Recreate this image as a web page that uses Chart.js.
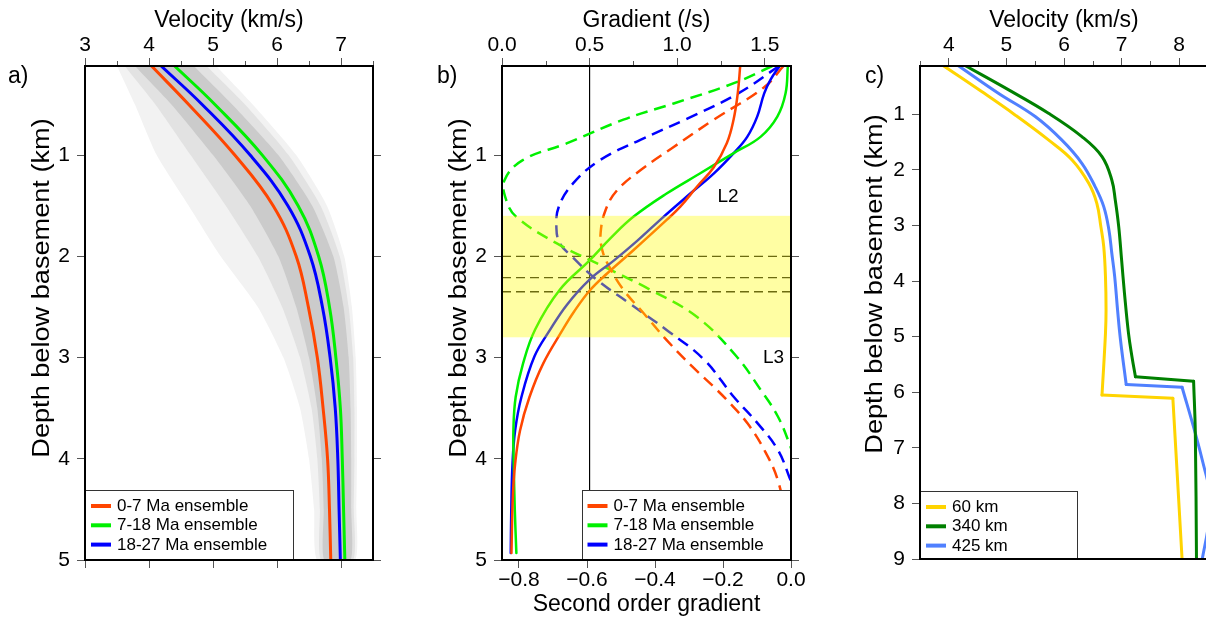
<!DOCTYPE html>
<html>
<head>
<meta charset="utf-8">
<script src="https://cdn.jsdelivr.net/npm/chart.js@4.4.0/dist/chart.umd.min.js"></script>
<style>
  html, body { margin: 0; padding: 0; background: #fff; overflow: hidden; width: 1206px; height: 619px; }
  canvas { position: absolute; top: 0; }
</style>
</head>
<body>
<canvas id="panelA" width="410" height="619" style="left:0px"></canvas>
<canvas id="panelB" width="410" height="619" style="left:415px"></canvas>
<canvas id="panelC" width="410" height="619" style="left:830px"></canvas>
<script>
// ---------- a) velocity–depth ensembles ----------
const aDepth   = [0.12, 0.5, 1.0, 1.5, 2.0, 2.5, 3.0, 3.5, 4.0, 4.5, 5.0];
const aVel07   = [4.04, 4.62, 5.34, 5.94, 6.30, 6.49, 6.63, 6.72, 6.79, 6.82, 6.84];
const aVel718  = [4.40, 5.03, 5.77, 6.33, 6.65, 6.82, 6.92, 6.99, 7.02, 7.04, 7.06];
const aVel1827 = [4.19, 4.83, 5.58, 6.17, 6.52, 6.71, 6.83, 6.91, 6.95, 6.97, 6.99];

// spread of the individual ensemble members (outer / middle / core envelopes)
const ensDepth   = [0.12, 0.5, 1.0, 1.5, 2.0, 2.5, 3.0, 3.5, 4.0, 4.5, 5.0];
const ensOuterLo = [3.50, 3.78, 4.12, 4.62, 5.12, 5.70, 6.10, 6.36, 6.50, 6.58, 6.63];
const ensOuterHi = [5.05, 5.62, 6.30, 6.78, 7.05, 7.17, 7.23, 7.25, 7.25, 7.24, 7.22];
const ensMidLo   = [3.62, 4.10, 4.65, 5.20, 5.70, 6.08, 6.36, 6.54, 6.63, 6.67, 6.69];
const ensMidHi   = [4.90, 5.50, 6.18, 6.68, 6.98, 7.12, 7.19, 7.21, 7.21, 7.20, 7.19];
const ensCoreLo  = [3.78, 4.35, 5.00, 5.58, 6.02, 6.30, 6.50, 6.63, 6.70, 6.73, 6.74];
const ensCoreHi  = [4.70, 5.30, 6.02, 6.55, 6.88, 7.04, 7.12, 7.15, 7.16, 7.16, 7.15];

const aVelTicks   = [3, 4, 5, 6, 7];
const aVelMinor   = [3.5, 4.5, 5.5, 6.5, 7.5];
const depthTicks5 = [1, 2, 3, 4, 5];

// ---------- b) gradients ----------
const bRedGradDepth   = [0.12, 0.39, 0.65, 0.88, 1.12, 1.31, 1.51, 1.64, 1.94, 2.17, 2.34, 2.55, 2.73, 3.06, 3.39, 3.72, 4.05, 4.37, 4.93];
const bRedGrad        = [1.360, 1.346, 1.322, 1.284, 1.209, 1.114, 1.018, 0.94, 0.75, 0.60, 0.50, 0.41, 0.345, 0.235, 0.157, 0.103, 0.075, 0.062, 0.054];
const bGreenGradDepth = [0.12, 0.39, 0.62, 0.82, 0.98, 1.18, 1.38, 1.61, 1.82, 2.04, 2.33, 2.72, 3.06, 3.39, 3.72, 4.05, 4.5, 4.93];
const bGreenGrad      = [1.632, 1.619, 1.572, 1.476, 1.323, 1.132, 0.94, 0.75, 0.62, 0.50, 0.33, 0.19, 0.12, 0.078, 0.065, 0.067, 0.073, 0.082];
const bBlueGradDepth  = [0.12, 0.25, 0.39, 0.62, 0.82, 0.98, 1.18, 1.38, 1.61, 1.85, 2.04, 2.23, 2.48, 2.73, 2.99, 3.39, 3.72, 4.05, 4.5, 4.93];
const bBlueGrad       = [1.585, 1.535, 1.497, 1.457, 1.400, 1.323, 1.210, 1.075, 0.922, 0.77, 0.64, 0.50, 0.37, 0.273, 0.185, 0.111, 0.075, 0.060, 0.053, 0.050];

const bRedSecDepth    = [0.12, 0.33, 0.65, 0.92, 1.15, 1.35, 1.54, 1.77, 1.94, 2.10, 2.33, 2.56, 2.83, 3.09, 3.29, 3.45, 3.65, 3.91, 4.21, 4.6, 5.0];
const bRedSec         = [-0.022, -0.079, -0.227, -0.345, -0.443, -0.512, -0.545, -0.560, -0.555, -0.535, -0.493, -0.434, -0.365, -0.29, -0.227, -0.180, -0.128, -0.079, -0.039, -0.015, -0.005];
const bGreenSecDepth  = [0.12, 0.29, 0.49, 0.65, 0.885, 1.05, 1.25, 1.44, 1.61, 1.87, 2.10, 2.33, 2.60, 2.99, 3.32, 3.58, 3.85, 4.1];
const bGreenSec       = [-0.055, -0.168, -0.345, -0.493, -0.660, -0.789, -0.843, -0.838, -0.808, -0.69, -0.552, -0.414, -0.276, -0.160, -0.089, -0.039, -0.005, 0.02];
const bBlueSecDepth   = [0.12, 0.39, 0.64, 0.85, 1.05, 1.28, 1.51, 1.72, 1.87, 2.0, 2.23, 2.47, 2.73, 3.02, 3.39, 3.65, 3.91, 4.18, 4.5];
const bBlueSec        = [-0.035, -0.155, -0.305, -0.443, -0.562, -0.641, -0.683, -0.690, -0.680, -0.645, -0.572, -0.473, -0.365, -0.256, -0.168, -0.098, -0.039, -0.005, 0.03];

const bRefGradient  = 0.5;              // vertical reference line (gradient axis)
const bLayerDepths  = [2.0, 2.21, 2.35]; // dashed horizons
const bBandDepths   = [1.6, 2.8];       // shaded transition zone
const bGradTicks    = [0, 0.5, 1.0, 1.5];
const bGradMinor    = [0.25, 0.75, 1.25];
const bSecTicks     = [-0.8, -0.6, -0.4, -0.2, 0];
const bNotes        = [{ text: 'L2', x: 1.29, y: 1.41 }, { text: 'L3', x: 1.55, y: 3.0 }];

// ---------- c) velocity profiles at three distances ----------
const c60Depth  = [0.12, 0.59, 1.01, 1.46, 1.82, 2.24, 2.60, 3.02, 3.38, 3.92, 4.52, 4.94, 6.05, 6.11, 9.0];
const c60Vel    = [3.90, 4.57, 5.15, 5.73, 6.14, 6.43, 6.57, 6.64, 6.69, 6.72, 6.73, 6.72, 6.66, 7.89, 8.05];
const c60Jump   = 12;
const c340Depth = [0.12, 0.56, 0.98, 1.40, 1.76, 2.18, 2.54, 3.02, 3.62, 4.22, 4.94, 5.36, 5.72, 5.80, 6.74, 9.0];
const c340Vel   = [4.28, 5.04, 5.73, 6.31, 6.66, 6.83, 6.89, 6.95, 7.00, 7.05, 7.12, 7.18, 7.24, 8.25, 8.28, 8.30];
const c340Jump  = 12;
const c425Depth = [0.12, 0.62, 1.04, 1.46, 1.88, 2.30, 2.66, 3.08, 3.50, 3.92, 4.52, 5.05, 5.86, 5.91, 6.74, 7.34, 7.8, 8.3, 9.0];
const c425Vel   = [4.16, 4.86, 5.50, 5.96, 6.31, 6.54, 6.69, 6.78, 6.83, 6.88, 6.93, 6.98, 7.08, 8.05, 8.28, 8.43, 8.53, 8.52, 8.40];
const c425Jump  = 12;
const cVelTicks   = [4, 5, 6, 7, 8];
const cVelMinor   = [3.5, 4.5, 5.5, 6.5, 7.5, 8.5];
const depthTicks9 = [1, 2, 3, 4, 5, 6, 7, 8, 9];

// ---------- shared styling ----------
const FONT = "'Liberation Sans', Arial, Helvetica, sans-serif";
Chart.defaults.font.family = FONT;
Chart.defaults.color = '#000';
const TICK_COL = '#555';
const DEPTH_TITLE = 'Depth below basement (km)';
const COL = { red: '#ff4500', green: '#00f000', blue: '#0000ff', gold: '#ffd400', dkgreen: '#008000', sky: '#5080ff' };

function pts(depths, vals) { return depths.map((d, i) => ({ x: vals[i], y: d })); }
function outline(depths, lo, hi) {
  const down = depths.map((d, i) => ({ x: lo[i], y: d }));
  const up = depths.map((d, i) => ({ x: hi[i], y: d })).reverse();
  return down.concat(up);
}
function curve(data, color, width, xAxis, extra) {
  return Object.assign({
    data, xAxisID: xAxis, yAxisID: 'yL', showLine: true,
    borderColor: color, borderWidth: width, pointRadius: 0, pointHoverRadius: 0,
    tension: 0.4, fill: false, clip: 0, order: 1,
    borderCapStyle: 'round', borderJoinStyle: 'round'
  }, extra || {});
}
function envelope(data, color, order) {
  return { data, xAxisID: 'xTop', yAxisID: 'yL', showLine: true, borderWidth: 0,
    borderColor: 'rgba(0,0,0,0)', backgroundColor: color, fill: 'shape', pointRadius: 0,
    tension: 0.2, clip: 0, order };
}
// profile with a velocity jump: smooth above and below, straight across the jump
function stepped(depth, vel, jump, color) {
  const p = pts(depth, vel);
  return [
    curve(p.slice(0, jump + 1), color, 3, 'xTop'),
    curve(p.slice(jump, jump + 2), color, 3, 'xTop', { tension: 0 }),
    curve(p.slice(jump + 1), color, 3, 'xTop')
  ];
}

function axis(o) {
  return {
    type: 'linear', position: o.pos, min: o.min, max: o.max, reverse: !!o.reverse,
    afterBuildTicks: s => { s.ticks = o.ticks.map(v => ({ value: v })); },
    afterFit: s => { if (s.isHorizontal()) s.height = o.size; else s.width = o.size; },
    border: { display: true, color: '#000', width: 2, z: 1 },
    grid: { display: true, drawOnChartArea: false, drawTicks: o.tickLen > 0, tickLength: o.tickLen || 0,
            tickColor: TICK_COL, tickWidth: 1, z: 1 },
    ticks: { display: !!o.fmt, callback: o.fmt || (() => ''), font: { size: 21 }, color: '#000',
             padding: o.pad || 0, z: 1, maxRotation: 0, autoSkip: false },
    title: o.title ? { display: true, text: o.title, font: { size: 23 }, color: '#000', padding: o.titlePad }
                   : { display: false }
  };
}

function decorations(cfg) {
  return {
    id: 'decorations',
    afterDatasetsDraw(chart) {
      const ctx = chart.ctx, ca = chart.chartArea;
      if (cfg.band) {
        const ys = chart.scales.yL;
        const y1 = ys.getPixelForValue(cfg.band[0]), y2 = ys.getPixelForValue(cfg.band[1]);
        ctx.save();
        ctx.fillStyle = 'rgba(255,252,0,0.36)';
        ctx.fillRect(ca.left, Math.min(y1, y2), ca.right - ca.left, Math.abs(y2 - y1));
        ctx.restore();
      }
      (cfg.notes || []).forEach(n => {
        ctx.save();
        ctx.font = '19px ' + FONT; ctx.fillStyle = '#000';
        ctx.textAlign = 'center'; ctx.textBaseline = 'middle';
        ctx.fillText(n.text, chart.scales.xTop.getPixelForValue(n.x), chart.scales.yL.getPixelForValue(n.y));
        ctx.restore();
      });
      if (cfg.legend) {
        const lg = cfg.legend;
        const x0 = lg.side === 'left' ? ca.left : ca.right - lg.width;
        const y0 = ca.bottom - lg.height;
        ctx.save();
        ctx.fillStyle = '#fff';
        ctx.fillRect(x0, y0, lg.width, lg.height);
        ctx.strokeStyle = '#333'; ctx.lineWidth = 1;
        ctx.strokeRect(Math.round(x0) + 0.5, Math.round(y0) + 0.5, lg.width, lg.height);
        ctx.font = '17px ' + FONT; ctx.textBaseline = 'middle'; ctx.textAlign = 'left';
        lg.items.forEach((it, i) => {
          const y = y0 + 16 + i * 19.3;
          ctx.strokeStyle = it.color; ctx.lineWidth = 4; ctx.lineCap = 'butt';
          ctx.beginPath(); ctx.moveTo(x0 + lg.sampleX, y); ctx.lineTo(x0 + lg.sampleX + 20, y); ctx.stroke();
          ctx.fillStyle = '#000';
          ctx.fillText(it.label, x0 + lg.sampleX + 26, y + 0.5);
        });
        ctx.restore();
      }
    },
    afterDraw(chart) {
      const ctx = chart.ctx, ca = chart.chartArea;
      ctx.save();
      if (cfg.minor) {
        const xs = chart.scales.xTop;
        ctx.strokeStyle = TICK_COL; ctx.lineWidth = 1;
        cfg.minor.forEach(v => {
          const x = Math.round(xs.getPixelForValue(v)) + 0.5;
          ctx.beginPath(); ctx.moveTo(x, ca.top - 1); ctx.lineTo(x, ca.top - 5); ctx.stroke();
        });
      }
      if (cfg.letter) {
        ctx.font = '23px ' + FONT; ctx.fillStyle = '#000';
        ctx.textAlign = 'left'; ctx.textBaseline = 'middle';
        ctx.fillText(cfg.letter.text, cfg.letter.x, 77);
      }
      if (cfg.yTitle) {
        // vertical axis title, set a little wider along its reading direction
        ctx.translate(cfg.yTitle.x, cfg.yTitle.y);
        ctx.rotate(-Math.PI / 2);
        ctx.scale(1.18, 1);
        ctx.font = '23px ' + FONT; ctx.fillStyle = '#000';
        ctx.textAlign = 'center'; ctx.textBaseline = 'middle';
        ctx.fillText(DEPTH_TITLE, 0, 0);
      }
      ctx.restore();
    }
  };
}

const baseOptions = (scales) => ({
  responsive: false, animation: false, events: [],
  layout: { padding: 0 },
  plugins: { legend: { display: false }, tooltip: { enabled: false } },
  scales
});
const intFmt = v => String(v);

// ---------- panel a ----------
new Chart(document.getElementById('panelA'), {
  type: 'scatter',
  data: { datasets: [
    curve(pts(aDepth, aVel07), COL.red, 3, 'xTop'),
    curve(pts(aDepth, aVel718), COL.green, 3, 'xTop'),
    curve(pts(aDepth, aVel1827), COL.blue, 3, 'xTop'),
    envelope(outline(ensDepth, ensCoreLo, ensCoreHi), '#cbcbcb', 8),
    envelope(outline(ensDepth, ensMidLo, ensMidHi), '#e2e2e2', 9),
    envelope(outline(ensDepth, ensOuterLo, ensOuterHi), '#f2f2f2', 10)
  ]},
  options: baseOptions({
    xTop: axis({ pos: 'top', min: 3, max: 7.5, ticks: aVelTicks, fmt: intFmt, size: 66, tickLen: 8,
                 title: 'Velocity (km/s)', titlePad: { top: 7, bottom: 0 } }),
    xBot: axis({ pos: 'bottom', min: 3, max: 7.5, ticks: aVelTicks, size: 59, tickLen: 8 }),
    yL: axis({ pos: 'left', min: 0.12, max: 5, reverse: true, ticks: depthTicks5, fmt: intFmt, size: 85,
               tickLen: 8, pad: 7 }),
    yR: axis({ pos: 'right', min: 0.12, max: 5, reverse: true, ticks: depthTicks5, size: 37, tickLen: 8 })
  }),
  plugins: [decorations({
    minor: aVelMinor,
    letter: { text: 'a)', x: 8 },
    yTitle: { x: 43, y: 288 },
    legend: { side: 'left', width: 208, height: 70, sampleX: 6, items: [
      { label: '0-7 Ma ensemble', color: COL.red },
      { label: '7-18 Ma ensemble', color: COL.green },
      { label: '18-27 Ma ensemble', color: COL.blue }
    ]}
  })]
});

// ---------- panel b ----------
const dashed = { borderDash: [12, 7], borderCapStyle: 'butt' };
new Chart(document.getElementById('panelB'), {
  type: 'scatter',
  data: { datasets: [
    curve(pts(bRedGradDepth, bRedGrad), COL.red, 2.5, 'xTop'),
    curve(pts(bGreenGradDepth, bGreenGrad), COL.green, 2.5, 'xTop'),
    curve(pts(bBlueGradDepth, bBlueGrad), COL.blue, 2.5, 'xTop'),
    curve(pts(bRedSecDepth, bRedSec), COL.red, 2.5, 'xBot', dashed),
    curve(pts(bGreenSecDepth, bGreenSec), COL.green, 2.5, 'xBot', dashed),
    curve(pts(bBlueSecDepth, bBlueSec), COL.blue, 2.5, 'xBot', dashed),
    curve([{ x: bRefGradient, y: 0.12 }, { x: bRefGradient, y: 5 }], '#000', 1, 'xTop', { tension: 0, order: 5 }),
    ...bLayerDepths.map(d => curve([{ x: 0, y: d }, { x: 1.65, y: d }], '#1a1a1a', 1.3, 'xTop',
      { tension: 0, order: 5, borderDash: [9, 5], borderCapStyle: 'butt' }))
  ]},
  options: baseOptions({
    xTop: axis({ pos: 'top', min: 0, max: 1.65, ticks: bGradTicks, fmt: v => v.toFixed(1), size: 66, tickLen: 8,
                 title: 'Gradient (/s)', titlePad: { top: 7, bottom: 0 } }),
    xBot: axis({ pos: 'bottom', min: -0.85, max: 0, ticks: bSecTicks,
                 fmt: v => (v < 0 ? '\u2212' : '') + Math.abs(v).toFixed(1), size: 59, tickLen: 8,
                 title: 'Second order gradient', titlePad: { top: 0, bottom: 1 } }),
    yL: axis({ pos: 'left', min: 0.12, max: 5, reverse: true, ticks: depthTicks5, fmt: intFmt, size: 87,
               tickLen: 8, pad: 7 }),
    yR: axis({ pos: 'right', min: 0.12, max: 5, reverse: true, ticks: depthTicks5, size: 34, tickLen: 8 })
  }),
  plugins: [decorations({
    band: bBandDepths,
    notes: bNotes,
    minor: bGradMinor,
    letter: { text: 'b)', x: 22 },
    yTitle: { x: 45, y: 288 },
    legend: { side: 'right', width: 209, height: 70, sampleX: 5.5, items: [
      { label: '0-7 Ma ensemble', color: COL.red },
      { label: '7-18 Ma ensemble', color: COL.green },
      { label: '18-27 Ma ensemble', color: COL.blue }
    ]}
  })]
});

// ---------- panel c ----------
new Chart(document.getElementById('panelC'), {
  type: 'scatter',
  data: { datasets: [
    ...stepped(c60Depth, c60Vel, c60Jump, COL.gold),
    ...stepped(c340Depth, c340Vel, c340Jump, COL.dkgreen),
    ...stepped(c425Depth, c425Vel, c425Jump, COL.sky)
  ]},
  options: baseOptions({
    xTop: axis({ pos: 'top', min: 3.5, max: 8.5, ticks: cVelTicks, fmt: intFmt, size: 66, tickLen: 8,
                 title: 'Velocity (km/s)', titlePad: { top: 7, bottom: 0 } }),
    xBot: axis({ pos: 'bottom', min: 3.5, max: 8.5, ticks: cVelTicks, size: 60, tickLen: 0 }),
    yL: axis({ pos: 'left', min: 0.13, max: 9, reverse: true, ticks: depthTicks9, fmt: intFmt, size: 90,
               tickLen: 8, pad: 7 }),
    yR: axis({ pos: 'right', min: 0.13, max: 9, reverse: true, ticks: depthTicks9, size: 32, tickLen: 8 })
  }),
  plugins: [decorations({
    minor: cVelMinor,
    letter: { text: 'c)', x: 35 },
    yTitle: { x: 46, y: 284 },
    legend: { side: 'left', width: 157, height: 68, sampleX: 6, items: [
      { label: '60 km', color: COL.gold },
      { label: '340 km', color: COL.dkgreen },
      { label: '425 km', color: COL.sky }
    ]}
  })]
});
</script>
</body>
</html>
